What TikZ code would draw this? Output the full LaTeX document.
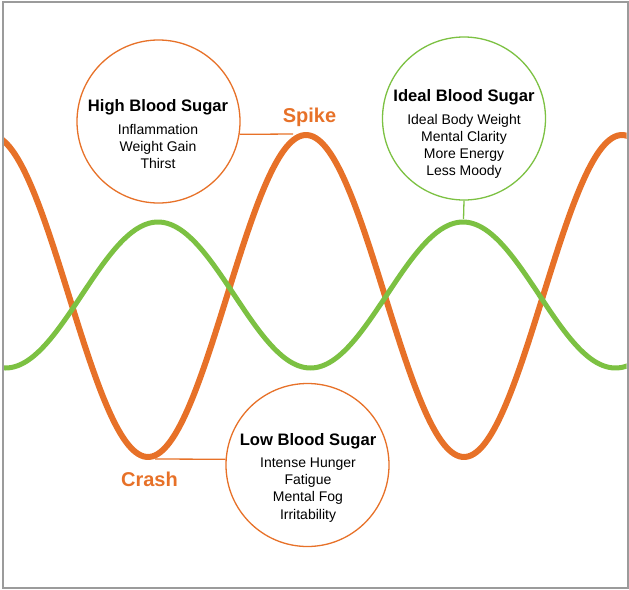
\documentclass[tikz,border=0pt]{standalone}
\usepackage{fontspec}
\setmainfont{Liberation Sans}
\definecolor{spikeorange}{RGB}{231,113,40}
\definecolor{idealgreen}{RGB}{124,193,66}
\definecolor{framegray}{RGB}{155,155,155}

\begin{document}
\begin{tikzpicture}[x=1pt,y=-1pt]
        \tikzset{
        ring/.style={circle, minimum size=163pt, inner sep=0pt, fill=white, draw=#1, line width=1.3pt},
        head/.style={font=\fontsize{16.6}{20}\selectfont\bfseries, inner sep=0pt, anchor=base},
        item/.style={font=\fontsize{14}{17}\selectfont, inner sep=0pt, anchor=base},
        tag/.style={font=\fontsize{20}{24}\selectfont\bfseries, text=spikeorange, inner sep=0pt, anchor=base},
        lnk/.style={-, draw=#1, line width=1.3pt},
        sugarwave/.style={spikeorange, line width=6pt},
        idealwave/.style={idealgreen, line width=5pt}
        }
        \useasboundingbox (0,0) rectangle (629,589);

        \begin{scope}
        \clip (3.5,2.5) rectangle (626.5,586.5);
        \draw[sugarwave] plot[domain=0:629, samples=220, smooth] (\x, {296-161*cos((\x-306)*1.13924)});
        \draw[idealwave] plot[domain=0:629, samples=220, smooth] (\x, {295-73*cos((\x-158)*1.18033)});
        \end{scope}
        \draw[framegray, line width=2pt] (2.5,1.5) rectangle (627.5,587.5);

        \node[ring=spikeorange] (high) at (158.5,121.5) {};
        \node[ring=idealgreen] (ideal) at (464,118.5) {};
        \node[ring=spikeorange] (low) at (307.5,465) {};

        \coordinate (spiketop) at (293,134);
        \coordinate (crashbottom) at (155,459);
        \coordinate (idealtop) at (463.5,219);

        \draw[lnk=spikeorange] (high.-9) -- (spiketop);
        \draw[lnk=spikeorange] (low.176) -- (crashbottom);
        \draw[lnk=idealgreen] (ideal.south) -- (idealtop);

        \node[tag] (spike) at (309.5,122) {Spike};
        \node[tag] (crash) at (149.5,486) {Crash};

        \node[head] (hightitle) at (158,111.5) {High Blood Sugar};
        \foreach \t [count=\i] in {Inflammation, Weight Gain, Thirst}
            \node[item] (high\i) at (158,117+17*\i) {\t};

        \node[head] (idealtitle) at (464,101.5) {Ideal Blood Sugar};
        \foreach \t [count=\i] in {Ideal Body Weight, Mental Clarity, More Energy, Less Moody}
            \node[item] (ideal\i) at (464,107+17*\i) {\t};

        \node[head] (lowtitle) at (308,445.5) {Low Blood Sugar};
        \foreach \t [count=\i] in {Intense Hunger, Fatigue, Mental Fog, Irritability}
            \node[item] (low\i) at (308,450+17.3*\i) {\t};
        \end{tikzpicture}
\end{document}
